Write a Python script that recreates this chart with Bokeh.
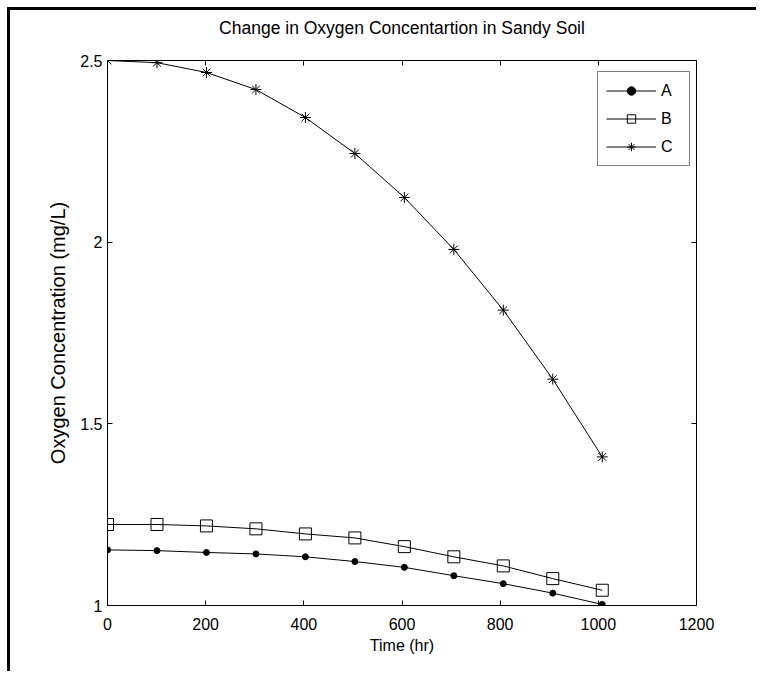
from bokeh.plotting import figure
from bokeh.models import LinearAxis, FixedTicker, Legend, LegendItem, Range1d
from bokeh.embed import file_html
from bokeh.resources import INLINE

# ---- data ----
time_hr = [0, 100.8, 201.6, 302.4, 403.2, 504.0, 604.8, 705.6, 806.4, 907.2, 1008.0]
conc_A = [1.153, 1.151, 1.146, 1.142, 1.134, 1.121, 1.105, 1.082, 1.060, 1.034, 1.003]
conc_B = [1.223, 1.223, 1.219, 1.211, 1.197, 1.186, 1.162, 1.134, 1.109, 1.074, 1.042]
conc_C = [2.500, 2.494, 2.467, 2.420, 2.343, 2.244, 2.123, 1.980, 1.813, 1.623, 1.409]
series_names = ["A", "B", "C"]
x_ticks = [0, 200, 400, 600, 800, 1000, 1200]
y_ticks = [1, 1.5, 2, 2.5]
y_tick_labels = ["1", "1.5", "2", "2.5"]
title_text = "Change in Oxygen Concentartion in Sandy Soil"
x_label = "Time (hr)"
y_label = "Oxygen Concentration (mg/L)"

FONT = "'Liberation Sans', Arial, sans-serif"

p = figure(width=749, height=664, output_backend="svg", toolbar_location=None,
           x_range=Range1d(0, 1200), y_range=Range1d(1, 2.5),
           x_axis_location=None, y_axis_location=None,
           min_border_left=97, min_border_right=63, min_border_top=50, min_border_bottom=69)
p.styles = {"margin-left": "7px", "margin-top": "7px",
            "border-left": "3px solid black", "border-top": "3px solid black"}
p.grid.visible = False
p.outline_line_color = None
p.background_fill_color = "white"
p.border_fill_color = "white"

p.title.text = title_text
p.title.align = "center"
p.title.text_font = FONT
p.title.text_font_size = "17.5px"
p.title.text_font_style = "normal"
p.title.text_color = "black"
p.title.standoff = 10

xb = LinearAxis(ticker=FixedTicker(ticks=x_ticks))
xt = LinearAxis(ticker=FixedTicker(ticks=x_ticks))
yl = LinearAxis(ticker=FixedTicker(ticks=y_ticks))
yr = LinearAxis(ticker=FixedTicker(ticks=y_ticks))
for ax, show in [(xb, True), (xt, False), (yl, True), (yr, False)]:
    ax.axis_line_color = "black"
    ax.axis_line_width = 1
    ax.major_tick_in = 5
    ax.major_tick_out = 0
    ax.major_tick_line_color = "black"
    ax.minor_tick_line_color = None
    if show:
        ax.major_label_text_font = FONT
        ax.major_label_text_font_size = "16px"
        ax.major_label_text_color = "black"
    else:
        ax.major_label_text_color = None
        ax.major_label_text_font_size = "1px"
        ax.major_label_standoff = 0

# invisible spacer axis: opens the gap between the title and the plot box
spacer = LinearAxis(ticker=FixedTicker(ticks=x_ticks), axis_line_color=None,
                    major_tick_line_color=None, minor_tick_line_color=None,
                    major_label_text_color=None, major_label_text_font_size="1px",
                    major_label_standoff=0, major_tick_in=0, major_tick_out=18)

yl.major_label_overrides = {t: s for t, s in zip(y_ticks, y_tick_labels)}
xb.major_label_standoff = 12
yl.major_label_standoff = 5

xb.axis_label = x_label
xb.axis_label_text_font = FONT
xb.axis_label_text_font_size = "16px"
xb.axis_label_text_font_style = "normal"
xb.axis_label_text_color = "black"
xb.axis_label_standoff = 4

yl.axis_label = y_label
yl.axis_label_text_font = FONT
yl.axis_label_text_font_size = "20px"
yl.axis_label_text_font_style = "normal"
yl.axis_label_text_color = "black"
yl.axis_label_standoff = 8

p.add_layout(xb, "below")
p.add_layout(xt, "above")
p.add_layout(spacer, "above")
p.add_layout(yl, "left")
p.add_layout(yr, "right")

lA = p.line(time_hr, conc_A, line_color="black", line_width=1)
mA = p.scatter(time_hr, conc_A, marker="circle", size=6, fill_color="black", line_color="black")
lB = p.line(time_hr, conc_B, line_color="black", line_width=1)
mB = p.scatter(time_hr, conc_B, marker="square", size=12, fill_color=None, line_color="black")
lC = p.line(time_hr, conc_C, line_color="black", line_width=1)
mC = p.scatter(time_hr, conc_C, marker="asterisk", size=11, line_color="black")

legend = Legend(items=[LegendItem(label=series_names[0], renderers=[lA, mA]),
                       LegendItem(label=series_names[1], renderers=[lB, mB]),
                       LegendItem(label=series_names[2], renderers=[lC, mC])],
                location=(490, 439), border_line_color="black", border_line_width=1,
                glyph_width=50, glyph_height=21, label_standoff=5, padding=8, spacing=7,
                label_height=21, margin=0, label_text_font=FONT, label_text_font_size="16px",
                label_text_color="black",
                background_fill_color="white", background_fill_alpha=1.0)
p.add_layout(legend)

open("out.html", "w").write(file_html(p, INLINE))
